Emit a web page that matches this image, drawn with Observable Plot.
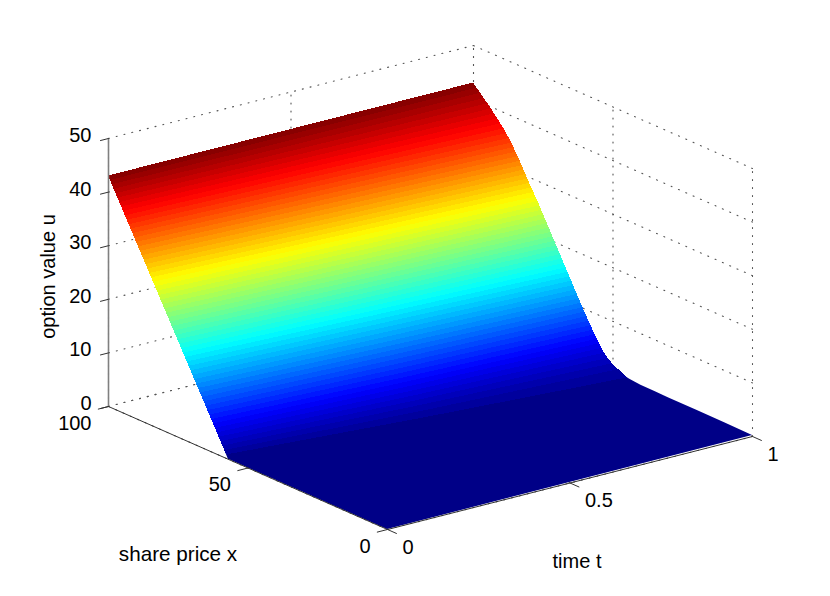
<!DOCTYPE html>
<html>
<head>
<meta charset="utf-8">
<style>html,body{margin:0;padding:0;background:#fff}svg{display:block}</style>
<script src="https://cdn.jsdelivr.net/npm/d3@7"></script>
<script src="https://cdn.jsdelivr.net/npm/@observablehq/plot@0.6"></script>
</head>
<body>
<script>
// Surface readings: option value u at share price x, for three times t
const times = [0, 0.5, 1];
const prices = [0,10,20,30,35,40,41,42,43,44,45,46,47,48,49,50,51,52,53,54,55,56,57,58,59,60,
  61,62,63,64,65,66,67,68,69,70,71,72,73,74,75,76,77,78,79,80,81,82,83,84,85,86,87,88,89,90,
  91,92,93,94,95,96,97,98,99,100];
const valuesT0 = [0,0,0,0,0,0,0,0,0,0,0,0,0,0,0,0,0,0,0,0,0,0,0,1,2,3,
  4,5,6,7,8,9,10,11,12,13,14,15,16,17,18,19,20,21,22,23,24,25,26,27,28,29,30,31,32,33,
  34,35,36,37,38,39,40,41,42,43];
const valuesT50 = [0,0,0.02,0.03,0.04,0.05,0.06,0.07,0.08,0.09,0.1,0.12,0.15,0.2,0.3,0.5,0.75,1.1,1.5,2,2.6,3.3,4.1,4.9,5.8,6.7,
  7.6,8.5,9.4,10.4,11.4,12.3,13.3,14.3,15.3,16.3,17.3,18.3,19.3,20.3,21.3,22.3,23.3,24.3,25.2,26.2,27.2,28.2,29.2,30.2,31.1,32,32.9,33.8,34.7,35.6,
  36.4,37.2,38,38.8,39.6,40.3,41,41.7,42.3,43];
const valuesT100 = [0.2,0.25,0.3,0.32,0.35,0.4,0.45,0.5,0.55,0.6,0.7,0.85,1,1.25,1.55,1.9,2.3,2.8,3.3,4,4.8,5.7,6.6,7.5,8.4,9.3,
  10.3,11.3,12.3,13.3,14.3,15.3,16.3,17.3,18.3,19.3,20.3,21.3,22.3,23.3,24.3,25.3,26.3,27.2,28.1,29,30,31,32,32.9,33.8,34.7,35.5,36.2,36.9,37.5,
  38.1,38.7,39.3,39.9,40.4,40.9,41.4,41.9,42.5,43];
const surface = [valuesT0, valuesT50, valuesT100];

// Axis ticks and texts
const uTicks = [0,10,20,30,40,50];
const xTicks = [0,50,100];
const tTicks = [0,0.5,1];
const xLabel = "share price x", tLabel = "time t", uLabel = "option value u";

// Jet colormap over the data range, 64 flat colour levels as in the original
const uMax = 43, levelCount = 64;
const jetDomain = [0, 5.4, 16.1, 26.9, 37.6, 43];
const jetColors = ["#000087","#0000ff","#00ffff","#ffff00","#ff0000","#800000"];

// Fixed orthographic view: where the box's axes land on the page
const view = {ox:387, oy:529, tx:365, ty:-93, xx:-2.79, xy:-1.23, uy:-5.36};
const px = (t,x,u) => view.ox + t*view.tx + x*view.xx;
const py = (t,x,u) => view.oy + t*view.ty + x*view.xy + u*view.uy;
const seg = (id,a,b) => [a,b].map(p => ({id, X:px(...p), Y:py(...p)}));

// Share price where a profile of the surface reaches a given value
function priceAt(profile, level) {
  if (level <= profile[0]) return prices[0];
  for (let i = 1; i < profile.length; i++) {
    if (profile[i] >= level) {
      const f = (level - profile[i-1]) / (profile[i] - profile[i-1]);
      return prices[i-1] + f * (prices[i] - prices[i-1]);
    }
  }
  return prices[prices.length-1];
}

// Colour bands of the surface: each level reaches slightly past its upper
// contour and the next level paints over that overlap, so no seams show.
const bands = [];
for (let k = 1; k < levelCount; k++) {
  const lo = uMax * k / levelCount, mid = uMax * (k + 0.5) / levelCount;
  const hi = Math.min(uMax, uMax * (k + 2) / levelCount);
  times.forEach((t, j) => {
    const xa = priceAt(surface[j], lo), xb = priceAt(surface[j], hi);
    bands.push({k, u:mid, x1:px(t,xa,lo), y1:py(t,xa,lo), x2:px(t,xb,hi), y2:py(t,xb,hi)});
  });
}

// The lowest, navy level follows the readings exactly along both edges,
// which keeps the sharp corner at t=0 and the rounded knee at t=1.
const lowEnd = 1;
const edgeT0 = prices.map((x,i) => [x, valuesT0[i]]).filter(d => d[1] <= lowEnd);
const edgeT1 = prices.map((x,i) => [x, valuesT100[i]]).filter(d => d[1] <= lowEnd);
const floorLevel = d3.range(Math.max(edgeT0.length, edgeT1.length)).map(i => {
  const a = edgeT0[Math.min(i, edgeT0.length-1)], b = edgeT1[Math.min(i, edgeT1.length-1)];
  return {x1:px(0,a[0],a[1]), y1:py(0,a[0],a[1]), x2:px(1,b[0],b[1]), y2:py(1,b[0],b[1])};
});

// Dotted box grid on the back walls and the floor
const grid = [];
uTicks.forEach(u => {
  grid.push(...seg("ub"+u,[0,100,u],[1,100,u]), ...seg("us"+u,[1,100,u],[1,0,u]));
});
tTicks.forEach(t => {
  grid.push(...seg("tw"+t,[t,100,0],[t,100,50]), ...seg("tf"+t,[t,0,0],[t,100,0]));
});
xTicks.forEach(x => {
  grid.push(...seg("xw"+x,[1,x,0],[1,x,50]), ...seg("xf"+x,[0,x,0],[1,x,0]));
});

// Solid axes and tick marks
const axisU = seg("u",[0,100,0],[0,100,50]);
const axes = [...seg("x",[0,100,0],[0,0,0]), ...seg("t",[0,0,0],[1,0,0])];
const ticks = [];
uTicks.forEach(u => ticks.push(...seg("u"+u,[0,100,u],[-0.022,100,u])));
xTicks.forEach(x => ticks.push(...seg("x"+x,[0,x,0],[-0.028,x,0])));
tTicks.forEach(t => ticks.push(...seg("t"+t,[t,0,0],[t,-3.2,0])));

const font = {fontFamily:"Liberation Sans, Arial, sans-serif", fontSize:20, fill:"#000"};
const wideFont = {...font, fontSize:20.7};
const chart = Plot.plot({
  width:830, height:596, margin:0,
  style:{background:"#fff", overflow:"visible"},
  x:{domain:[0,830], range:[0,830], axis:null},
  y:{domain:[0,596], range:[0,596], axis:null},
  color:{type:"linear", domain:jetDomain, range:jetColors, clamp:true},
  marks:[
    Plot.line(grid,{x:"X", y:"Y", z:"id", stroke:"#555", strokeWidth:1.1, strokeDasharray:"1 7"}),
    Plot.area(floorLevel,{x1:"x1", y1:"y1", x2:"x2", y2:"y2", fill:"#000087"}),
    Plot.area(bands,{x1:"x1", y1:"y1", x2:"x2", y2:"y2", z:"k", fill:"u", shapeRendering:"crispEdges"}),
    Plot.line(axes,{x:"X", y:"Y", z:"id", stroke:"#333", strokeWidth:1}),
    Plot.line(axisU,{x:"X", y:"Y", stroke:"#808080", strokeWidth:1.6}),
    Plot.line(ticks,{x:"X", y:"Y", z:"id", stroke:"#333", strokeWidth:1}),
    Plot.text(uTicks,{x:u=>px(0,100,u), y:u=>py(0,100,u), text:String, textAnchor:"end", dx:-17, dy:-3, ...font}),
    Plot.text(xTicks,{x:x=>px(0,x,0), y:x=>py(0,x,0), text:String, textAnchor:"end", dy:17, ...font, dx:-17}),
    Plot.text(tTicks,{x:t=>px(t,0,0), y:t=>py(t,0,0), text:String, textAnchor:"start", dx:15, dy:18, ...font}),
    Plot.text([xLabel],{x:()=>px(0,50,0), y:()=>py(0,50,0), text:String, textAnchor:"middle", dx:-70, dy:86, ...wideFont}),
    Plot.text([tLabel],{x:()=>px(0.5,0,0), y:()=>py(0.5,0,0), text:String, textAnchor:"middle", dx:7, dy:79, ...font}),
    Plot.text([uLabel],{x:()=>px(0,100,25), y:()=>py(0,100,25), text:String, textAnchor:"middle", rotate:-90, dx:-60, dy:4, ...font})
  ]
});
document.body.appendChild(chart);
</script>
</body>
</html>
